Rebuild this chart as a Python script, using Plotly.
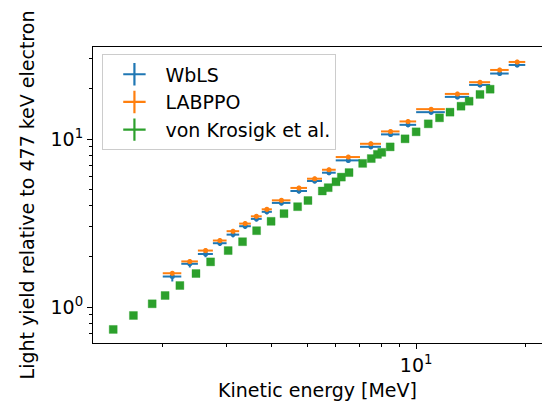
import plotly.graph_objects as go

# ---- data ----
bin_centers = [2.125, 2.375, 2.625, 2.875, 3.125, 3.375, 3.625, 3.875,
               4.25, 4.75, 5.25, 5.75, 6.5, 7.5, 8.5, 9.5,
               11.0, 13.0, 15.0, 17.0, 19.0]
bin_halfwidths = [0.125, 0.125, 0.125, 0.125, 0.125, 0.125, 0.125, 0.125,
                  0.25, 0.25, 0.25, 0.25, 0.5, 0.5, 0.5, 0.5,
                  1.0, 1.0, 1.0, 1.0, 1.0]

wbls_ly = [1.52, 1.81, 2.07, 2.40, 2.70, 3.03, 3.35, 3.69,
           4.17, 4.91, 5.63, 6.31, 7.47, 9.00, 10.67, 12.16,
           14.47, 17.84, 21.02, 24.57, 27.64]
wbls_err = [0.10, 0.09, 0.09, 0.09, 0.10, 0.11, 0.12, 0.13,
            0.15, 0.17, 0.19, 0.21, 0.25, 0.30, 0.35, 0.40,
            0.48, 0.58, 0.68, 0.80, 0.90]

labppo_ly = [1.59, 1.87, 2.17, 2.49, 2.83, 3.14, 3.47, 3.82,
             4.32, 5.12, 5.81, 6.57, 7.82, 9.38, 11.11, 12.74,
             15.08, 18.58, 21.82, 25.81, 28.80]
labppo_err = [0.05, 0.06, 0.07, 0.08, 0.09, 0.10, 0.11, 0.12,
              0.13, 0.15, 0.17, 0.19, 0.23, 0.28, 0.33, 0.38,
              0.45, 0.55, 0.65, 0.77, 0.86]

vk_energy = [1.46, 1.66, 1.87, 2.03, 2.23, 2.47, 2.71, 3.03, 3.32, 3.63,
             3.98, 4.32, 4.71, 5.03, 5.51, 5.72, 6.01, 6.22, 6.53, 7.12,
             7.52, 7.82, 8.04, 8.48, 9.32, 10.0, 10.8, 11.6, 12.4, 13.3,
             14.0, 15.0, 16.0]
vk_ly = [0.736, 0.891, 1.046, 1.172, 1.344, 1.584, 1.858, 2.17, 2.45, 2.85,
         3.24, 3.60, 3.96, 4.31, 4.91, 5.14, 5.57, 5.94, 6.32, 7.17,
         7.66, 8.11, 8.34, 8.99, 10.04, 11.05, 12.33, 13.39, 14.47, 15.70,
         16.81, 18.45, 19.82]
vk_err = [0.015, 0.018, 0.02, 0.02, 0.025, 0.03, 0.035, 0.04, 0.045, 0.05,
          0.06, 0.065, 0.07, 0.08, 0.09, 0.09, 0.1, 0.1, 0.11, 0.12,
          0.13, 0.14, 0.14, 0.15, 0.17, 0.19, 0.21, 0.23, 0.25, 0.27,
          0.29, 0.32, 0.34]

series_names = ["WbLS", "LABPPO", "von Krosigk et al."]
x_title = "Kinetic energy [MeV]"
y_title = "Light yield relative to 477 keV electron"
x_major = [10]
x_major_text = ["10<sup>1</sup>"]
x_minor = [2, 3, 4, 5, 6, 7, 8, 9, 20]
y_major = [1, 10]
y_major_text = ["10<sup>0</sup>", "10<sup>1</sup>"]
y_minor = [0.7, 0.8, 0.9, 2, 3, 4, 5, 6, 7, 8, 9, 20, 30]

BLUE = "#1f77b4"
ORANGE = "#ff7f0e"
GREEN = "#2ca02c"
FONT = "DejaVu Sans"
FS = 19

fig = go.Figure()

fig.add_trace(go.Scatter(
    x=bin_centers, y=wbls_ly, mode="markers", showlegend=False,
    marker=dict(color=BLUE, size=5, symbol="circle"),
    error_x=dict(type="data", array=bin_halfwidths, color=BLUE, thickness=2, width=0),
    error_y=dict(type="data", array=wbls_err, color=BLUE, thickness=2, width=0),
))
fig.add_trace(go.Scatter(
    x=bin_centers, y=labppo_ly, mode="markers", showlegend=False,
    marker=dict(color=ORANGE, size=5, symbol="circle"),
    error_x=dict(type="data", array=bin_halfwidths, color=ORANGE, thickness=2, width=0),
    error_y=dict(type="data", array=labppo_err, color=ORANGE, thickness=2, width=0),
))
fig.add_trace(go.Scatter(
    x=vk_energy, y=vk_ly, mode="markers", showlegend=False,
    marker=dict(color=GREEN, size=8, symbol="square",
                line=dict(color="rgba(44,160,44,0.35)", width=1)),
    error_y=dict(type="data", array=vk_err, color=GREEN, thickness=2, width=0),
))

# legend proxies (cross-shaped, like errorbar legend handles)
for name, col in zip(series_names, [BLUE, ORANGE, GREEN]):
    fig.add_trace(go.Scatter(
        x=[None], y=[None], mode="markers", name=name,
        marker=dict(symbol="cross-thin", size=16, color=col,
                    line=dict(color=col, width=2.2)),
    ))

axis_common = dict(
    type="log", showline=True, linecolor="black", linewidth=1,
    ticks="outside", ticklen=5, tickwidth=1, tickcolor="black",
    showgrid=False, zeroline=False, automargin=False,
    tickfont=dict(family=FONT, size=FS, color="black"),
)

fig.update_layout(
    width=542, height=404,
    margin=dict(l=93, r=0, t=47, b=61),
    paper_bgcolor="white", plot_bgcolor="white",
    font=dict(family=FONT, size=FS, color="black"),
    xaxis=dict(
        **axis_common, mirror=True,
        range=[0.1086, 1.3472],
        tickvals=x_major, ticktext=x_major_text,
        minor=dict(tickvals=x_minor, ticks="outside", ticklen=3, tickwidth=0.8, tickcolor="black"),
        title=dict(text=x_title, font=dict(family=FONT, size=FS), standoff=8),
    ),
    yaxis=dict(
        **axis_common, mirror=False,
        range=[-0.2139, 1.5484],
        tickvals=y_major, ticktext=y_major_text,
        minor=dict(tickvals=y_minor, ticks="outside", ticklen=3, tickwidth=0.8, tickcolor="black"),
        title=dict(text=y_title, font=dict(family=FONT, size=FS), standoff=10),
    ),
    legend=dict(
        x=0.021, y=0.975, xanchor="left", yanchor="top",
        bgcolor="rgba(255,255,255,0.8)", bordercolor="#cccccc", borderwidth=1,
        font=dict(family=FONT, size=FS, color="black"),
        itemwidth=52,
    ),
)

# remove the default 8px page margin so the 542x404 figure fills the window exactly
fig.write_html("out.html", config={"displayModeBar": False},
               post_script="document.body.style.margin='0';")
